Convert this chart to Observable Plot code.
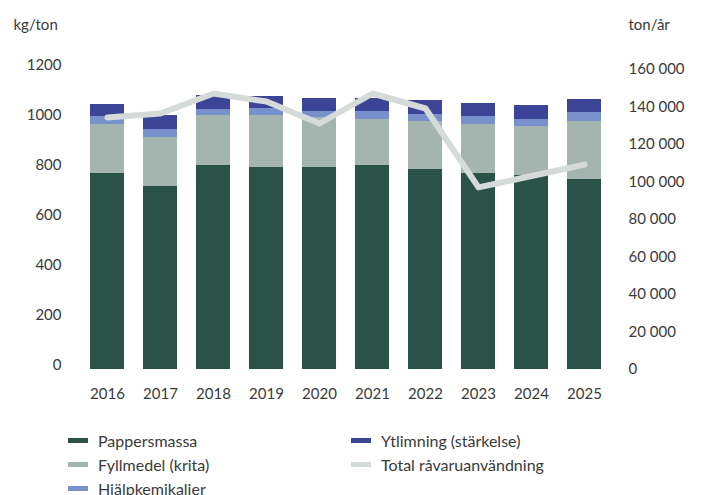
<!DOCTYPE html>
<html>
<head>
<meta charset="utf-8">
<script src="https://cdn.jsdelivr.net/npm/d3@7"></script>
<script src="https://cdn.jsdelivr.net/npm/@observablehq/plot@0.6"></script>
<style>
  html, body { margin: 0; padding: 0; background: #fff; }
  #wrap { position: relative; width: 702px; height: 495px; overflow: hidden; font-family: Lato, "Noto Sans", sans-serif; color: #3a3a3a; }
  #legend { position: absolute; left: 68px; top: 428px; display: grid; grid-template-columns: 283px 300px; grid-auto-flow: column; grid-template-rows: repeat(3, 24px); font-size: 16px; }
  .item { display: flex; align-items: center; height: 24px; white-space: nowrap; }
  .sw { width: 20px; height: 5px; margin-right: 10px; flex: none; }
</style>
</head>
<body>
<div id="wrap"><div id="chart"></div><div id="legend"></div></div>
<script>
const years = ["2016","2017","2018","2019","2020","2021","2022","2023","2024","2025"];
const seriesNames = ["Pappersmassa","Fyllmedel (krita)","Hjälpkemikalier","Ytlimning (stärkelse)"];
const pappersmassa = [784, 732, 816, 808, 808, 816, 800, 784, 776, 760];
const fyllmedel    = [196, 196, 200, 208, 200, 184, 192, 196, 196, 232];
const hjalpkemikalier = [32, 32, 24, 28, 24, 32, 28, 32, 28, 36];
const ytlimning    = [48, 56, 56, 48, 52, 52, 56, 52, 56, 52];
const totalName = "Total råvaruanvändning";
const totalTon = [134400, 136500, 147200, 142900, 131200, 147200, 139200, 97100, 103200, 109300];
const leftTicks = [0, 200, 400, 600, 800, 1000, 1200];
const rightTicks = [0, 20000, 40000, 60000, 80000, 100000, 120000, 140000, 160000];
const colors = ["#2a5249", "#a3b5ae", "#7891cd", "#3b4496"];
const lineColor = "#d5dbd8";

const k = 1200 / 160000; // right axis (ton/år) to left axis (kg/ton)
const seriesValues = [pappersmassa, fyllmedel, hjalpkemikalier, ytlimning];
const rows = [];
years.forEach((y, i) => seriesNames.forEach((s, j) => rows.push({year: y, series: s, value: seriesValues[j][i]})));
const lineRows = years.map((y, i) => ({year: y, v: totalTon[i] * k}));
const fmt = v => d3.format(",")(Math.round(v)).replace(/,/g, " ");

const chart = Plot.plot({
  width: 702,
  height: 420,
  marginTop: 69,
  marginBottom: 51,
  marginLeft: 77,
  marginRight: 89,
  style: {fontFamily: "Lato, 'Noto Sans', sans-serif", fontSize: "15px", color: "#3a3a3a", background: "#fff"},
  x: {type: "band", domain: years, paddingInner: 0.36, paddingOuter: 0.18},
  y: {domain: [0, 1200]},
  color: {domain: seriesNames, range: colors},
  marks: [
    Plot.barY(rows, {x: "year", y: "value", fill: "series", order: seriesNames}),
    Plot.line(lineRows, {x: "year", y: "v", stroke: lineColor, strokeWidth: 6, strokeLinecap: "round", strokeLinejoin: "round"}),
    Plot.axisX({tickSize: 0, tickPadding: 19, label: null}),
    Plot.axisY({anchor: "left", ticks: leftTicks, tickFormat: d => String(d), tickSize: 0, tickPadding: 16, dy: -4, label: null}),
    Plot.axisY({anchor: "right", ticks: rightTicks.map(v => v * k), tickFormat: d => fmt(d / k), tickSize: 0, tickPadding: 15, label: null}),
    Plot.text(["kg/ton"], {frameAnchor: "top-left", dx: -64, dy: -50, textAnchor: "start", fill: "#3a3a3a"}),
    Plot.text(["ton/år"], {frameAnchor: "top-right", dx: 15, dy: -50, textAnchor: "start", fill: "#3a3a3a"})
  ]
});
document.getElementById("chart").appendChild(chart);

const legend = document.getElementById("legend");
const legendItems = seriesNames.map((s, i) => ({label: s, color: colors[i]})).concat([{label: totalName, color: lineColor}]);
legendItems.forEach(it => {
  const d = document.createElement("div");
  d.className = "item";
  d.innerHTML = `<span class="sw" style="background:${it.color}"></span><span>${it.label}</span>`;
  legend.appendChild(d);
});
</script>
</body>
</html>
